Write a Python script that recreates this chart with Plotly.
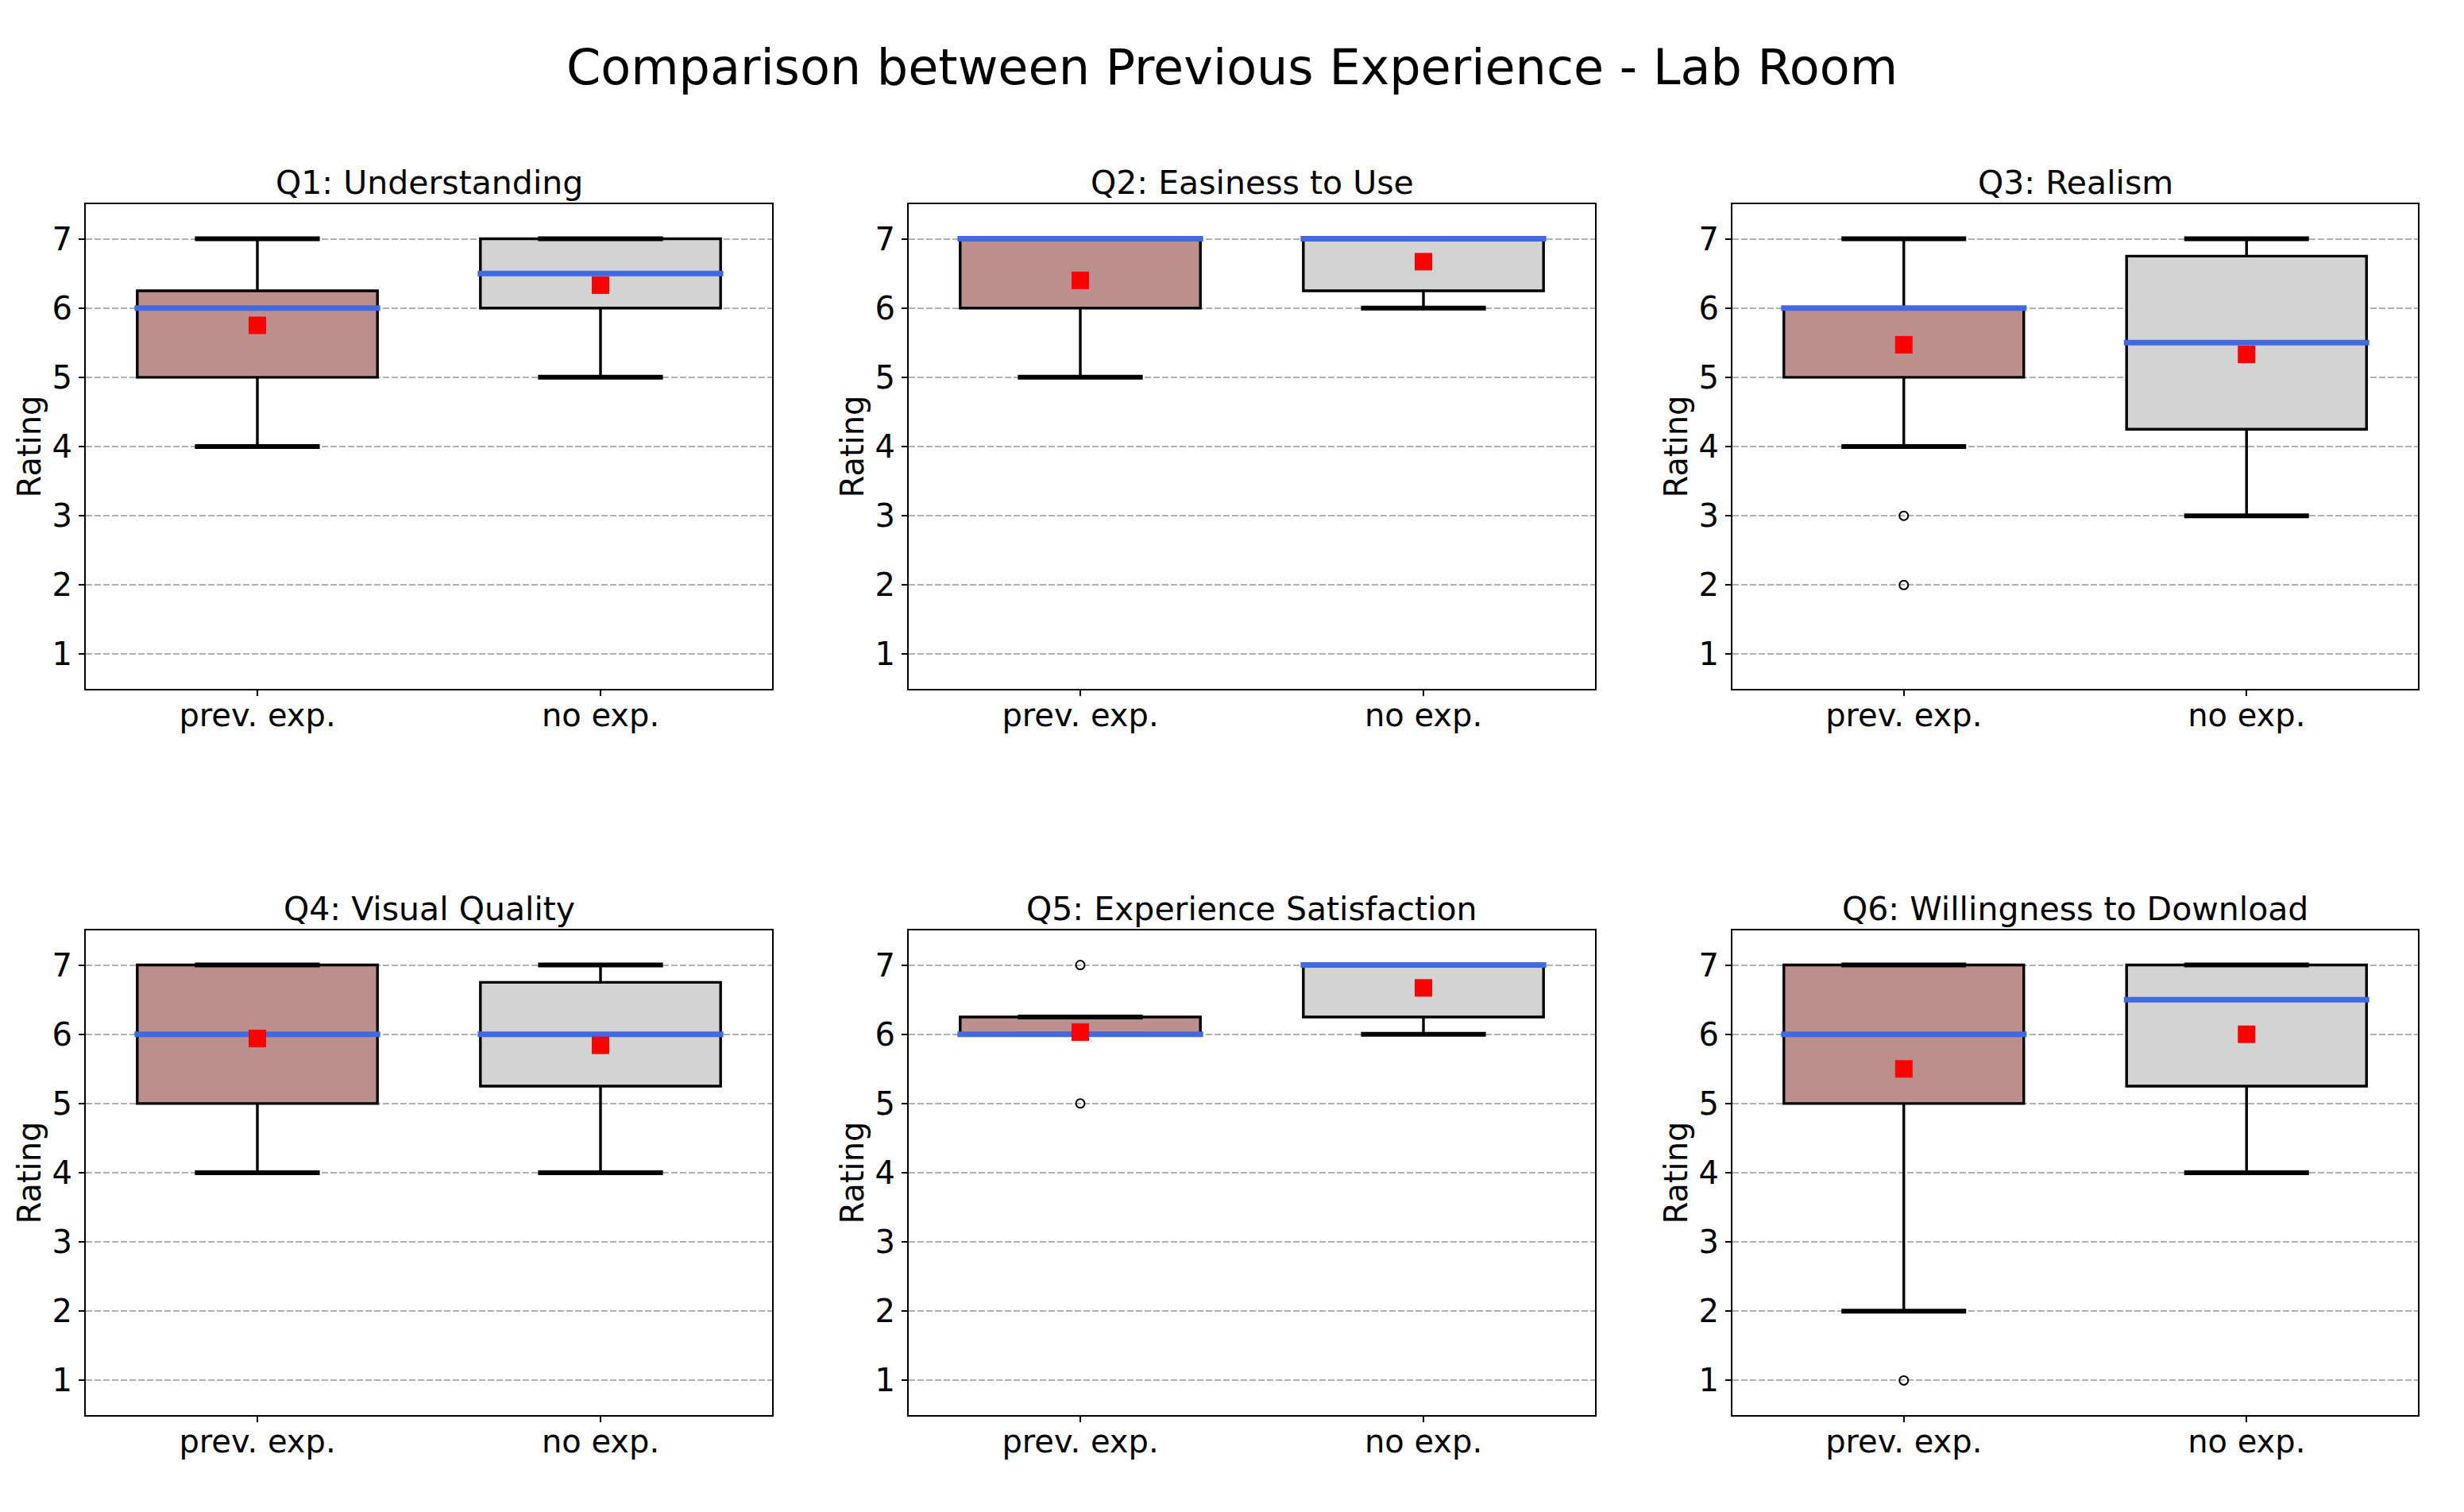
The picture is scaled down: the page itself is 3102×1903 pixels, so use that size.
import plotly.graph_objects as go

# ---------------- data ----------------
categories = ["prev. exp.", "no exp."]
questions = [
    "Q1: Understanding",
    "Q2: Easiness to Use",
    "Q3: Realism",
    "Q4: Visual Quality",
    "Q5: Experience Satisfaction",
    "Q6: Willingness to Download",
]
y_ticks = [1, 2, 3, 4, 5, 6, 7]

prev_lo = [4, 5, 4, 4, 6, 2]
prev_q1 = [5, 6, 5, 5, 6, 5]
prev_median = [6, 7, 6, 6, 6, 6]
prev_q3 = [6.25, 7, 6, 7, 6.25, 7]
prev_hi = [7, 7, 7, 7, 6.25, 7]
prev_mean = [5.75, 6.4, 5.47, 5.94, 6.03, 5.5]
prev_outliers = [[], [], [3, 2], [], [7, 5], [1]]

no_lo = [5, 6, 3, 4, 6, 4]
no_q1 = [6, 6.25, 4.25, 5.25, 6.25, 5.25]
no_median = [6.5, 7, 5.5, 6, 7, 6.5]
no_q3 = [7, 7, 6.75, 6.75, 7, 7]
no_hi = [7, 7, 7, 7, 7, 7]
no_mean = [6.33, 6.67, 5.33, 5.84, 6.67, 6.0]
no_outliers = [[], [], [], [], [], []]

# ---------------- style ----------------
W, H = 3102, 1903
FONT = "DejaVu Sans"
col_px = [(108, 972), (1144, 2008), (2181, 3044)]
row_px = [(257, 867), (1171, 1781)]
face_colors = ["rosybrown", "lightgrey"]
BOX_W = 0.7
CAP_HALF = 0.182
MED_HALF = 0.358

groups = [
    dict(lo=prev_lo, q1=prev_q1, med=prev_median, q3=prev_q3, hi=prev_hi,
         mean=prev_mean, out=prev_outliers),
    dict(lo=no_lo, q1=no_q1, med=no_median, q3=no_q3, hi=no_hi,
         mean=no_mean, out=no_outliers),
]

fig = go.Figure()
annotations = []

for i, qname in enumerate(questions):
    r, c = divmod(i, 3)
    ax = "" if i == 0 else str(i + 1)
    xref, yref = "x" + ax, "y" + ax
    x0, x1 = col_px[c]
    ytop, ybot = row_px[r]
    xdom = [x0 / W, x1 / W]
    ydom = [1 - ybot / H, 1 - ytop / H]

    for g, grp in enumerate(groups):
        pos = g + 1
        fig.add_trace(go.Box(
            x=[pos], q1=[grp["q1"][i]], median=[grp["med"][i]], q3=[grp["q3"][i]],
            lowerfence=[grp["lo"][i]], upperfence=[grp["hi"][i]],
            width=BOX_W, whiskerwidth=0, fillcolor=face_colors[g],
            line=dict(color="black", width=3.4), boxpoints=False,
            hoverinfo="skip", showlegend=False, xaxis=xref, yaxis=yref))
        # caps
        for v in (grp["lo"][i], grp["hi"][i]):
            fig.add_trace(go.Scatter(
                x=[pos - CAP_HALF, pos + CAP_HALF], y=[v, v], mode="lines",
                line=dict(color="black", width=6), hoverinfo="skip",
                showlegend=False, xaxis=xref, yaxis=yref))
        # median
        fig.add_trace(go.Scatter(
            x=[pos - MED_HALF, pos + MED_HALF], y=[grp["med"][i]] * 2, mode="lines",
            line=dict(color="royalblue", width=7), hoverinfo="skip",
            showlegend=False, xaxis=xref, yaxis=yref))
        # mean
        fig.add_trace(go.Scatter(
            x=[pos], y=[grp["mean"][i]], mode="markers",
            marker=dict(symbol="square", size=22, color="red", line=dict(width=0)),
            hoverinfo="skip", showlegend=False, xaxis=xref, yaxis=yref))
        # outliers
        if grp["out"][i]:
            fig.add_trace(go.Scatter(
                x=[pos] * len(grp["out"][i]), y=grp["out"][i], mode="markers",
                marker=dict(symbol="circle-open", size=11, color="black",
                            line=dict(width=2, color="black")),
                hoverinfo="skip", showlegend=False, xaxis=xref, yaxis=yref))

    axis_common = dict(showline=True, mirror=True, linecolor="black", linewidth=2,
                       ticks="outside", ticklen=7, tickwidth=2, tickcolor="black",
                       tickfont=dict(family=FONT, size=40, color="black"),
                       zeroline=False)
    fig.layout["xaxis" + ax] = dict(
        domain=xdom, anchor=yref, range=[0.5, 2.5], tickvals=[1, 2],
        ticktext=categories, showgrid=False, ticklabelstandoff=-10, **axis_common)
    fig.layout["yaxis" + ax] = dict(
        domain=ydom, anchor=xref, range=[0.5, 7.5], tickvals=y_ticks,
        showgrid=True, gridcolor="#b0b0b0", gridwidth=1.8, griddash="8px,3px",
        title=dict(text="Rating", font=dict(family=FONT, size=40, color="black"),
                   standoff=2),
        **axis_common)

    annotations.append(dict(
        text=qname, x=(xdom[0] + xdom[1]) / 2, y=ydom[1], xref="paper", yref="paper",
        xanchor="center", yanchor="bottom", yshift=1, showarrow=False,
        font=dict(family=FONT, size=41, color="black")))

fig.update_layout(
    width=W, height=H, autosize=False,
    margin=dict(l=0, r=0, t=0, b=0),
    paper_bgcolor="white", plot_bgcolor="white",
    font=dict(family=FONT, color="black"),
    title=dict(text="Comparison between Previous Experience - Lab Room",
               x=0.5, xanchor="center", y=1 - 106 / H, yanchor="bottom",
               font=dict(family=FONT, size=62, color="black")),
    annotations=annotations,
)

fig.write_html("out.html", config={"displayModeBar": False},
               post_script="document.body.style.margin='0px';")
